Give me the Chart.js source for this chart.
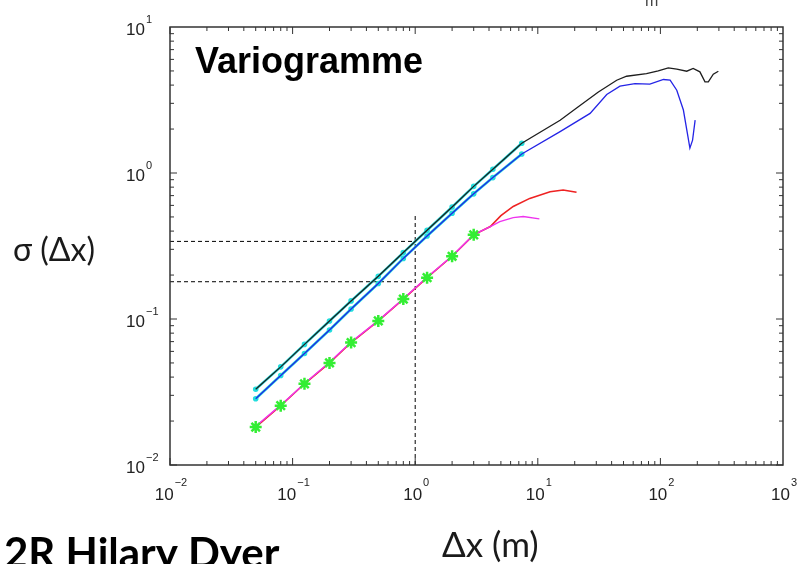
<!DOCTYPE html>
<html>
<head>
<meta charset="utf-8">
<script src="https://cdn.jsdelivr.net/npm/chart.js@4.4.1/dist/chart.umd.min.js"></script>
<style>
  html, body { margin: 0; padding: 0; background: #fff; }
  #wrap { position: relative; width: 798px; height: 564px; }
</style>
</head>
<body>
<div id="wrap"><canvas id="variogram"></canvas></div>
<script>
// lags (m) and sigma values
const lagStars = [0.05, 0.08, 0.125, 0.2, 0.3, 0.5, 0.8, 1.25, 2, 3];
const starVals = [0.0182, 0.0255, 0.036, 0.050, 0.069, 0.097, 0.137, 0.192, 0.269, 0.377];

const lagRed = [0.05, 0.08, 0.125, 0.2, 0.3, 0.5, 0.8, 1.25, 2, 3, 4.1, 5, 6.3, 8.6, 12.6, 16.1, 20.7];
const redVals = [0.0182, 0.0255, 0.036, 0.050, 0.069, 0.097, 0.137, 0.192, 0.269, 0.377, 0.43, 0.51, 0.59, 0.67, 0.745, 0.765, 0.738];

const lagMagenta = [0.05, 0.08, 0.125, 0.2, 0.3, 0.5, 0.8, 1.25, 2, 3, 4.1, 4.9, 6.3, 7.6, 10.3];
const magentaVals = [0.0184, 0.0257, 0.0362, 0.0505, 0.0695, 0.0975, 0.1375, 0.193, 0.27, 0.378, 0.43, 0.465, 0.495, 0.503, 0.485];

const lagBlack = [0.05, 0.08, 0.125, 0.2, 0.3, 0.5, 0.8, 1.25, 2, 3, 4.3, 7.4, 15.2, 21.4, 31.2, 44, 53, 77, 96, 116, 136, 164, 185, 210, 231, 246, 270, 297];
const blackVals = [0.033, 0.047, 0.067, 0.097, 0.133, 0.196, 0.285, 0.405, 0.585, 0.81, 1.06, 1.60, 2.30, 2.84, 3.59, 4.32, 4.60, 4.80, 5.00, 5.24, 5.14, 4.98, 5.20, 4.93, 4.21, 4.21, 4.75, 4.98];

const lagBlue = [0.05, 0.08, 0.125, 0.2, 0.3, 0.5, 0.8, 1.25, 2, 3, 4.3, 7.4, 15.2, 26.7, 36.5, 46.8, 62, 82, 106, 120, 136, 154, 166, 174, 183, 192];
const blueVals = [0.0284, 0.041, 0.058, 0.084, 0.117, 0.175, 0.26, 0.37, 0.53, 0.72, 0.93, 1.35, 1.92, 2.56, 3.45, 3.93, 4.10, 4.06, 4.37, 4.32, 3.69, 2.70, 1.87, 1.48, 1.68, 2.30];

const lagCyan = [0.05, 0.08, 0.125, 0.2, 0.3, 0.5, 0.8, 1.25, 2, 3, 4.3, 7.4];
const cyanUpperVals = [0.033, 0.047, 0.067, 0.097, 0.133, 0.196, 0.285, 0.405, 0.585, 0.81, 1.06, 1.60];
const cyanLowerVals = [0.0284, 0.041, 0.058, 0.084, 0.117, 0.175, 0.26, 0.37, 0.53, 0.72, 0.93, 1.35];

// dashed reading guides
const guideHighX = [0.01, 1];
const guideHighY = [0.34, 0.34];
const guideLowX = [0.01, 1];
const guideLowY = [0.18, 0.18];
const guideVertX = [1, 1];
const guideVertY = [0.01, 0.52];

const xTicks = [0.01, 0.1, 1, 10, 100, 1000];
const yTicks = [0.01, 0.1, 1, 10];

const pts = (xs, ys) => xs.map((x, i) => ({ x: x, y: ys[i] }));
const expOf = v => String(Math.round(Math.log10(v))).replace("-", "\u2212");

function lineSet(data, color, width, extra) {
  return Object.assign({
    data: data,
    borderColor: color,
    backgroundColor: color,
    borderWidth: width,
    pointRadius: 0,
    showLine: true,
    fill: false,
    tension: 0
  }, extra || {});
}

const BASE_FONT = "17px 'Liberation Sans', Arial, sans-serif";
const EXP_FONT = "11px 'Liberation Sans', Arial, sans-serif";

const frame = {
  id: "frame",
  afterDraw(chart) {
    const c = chart.ctx;
    const a = chart.chartArea;
    const xs = chart.scales.x, ys = chart.scales.y;
    c.save();
    c.strokeStyle = "#333";
    c.lineWidth = 1.5;
    c.strokeRect(a.left, a.top, a.right - a.left, a.bottom - a.top);

    // inward ticks, MATLAB style
    c.lineWidth = 1;
    for (let e = -2; e <= 2; e++) {
      for (let m = 1; m <= 9; m++) {
        const v = m * Math.pow(10, e);
        const len = m === 1 ? 7 : 4;
        const px = xs.getPixelForValue(v);
        c.beginPath();
        c.moveTo(px, a.bottom); c.lineTo(px, a.bottom - len);
        c.moveTo(px, a.top); c.lineTo(px, a.top + len);
        c.stroke();
        if (e <= 0) {
          const py = ys.getPixelForValue(v);
          c.beginPath();
          c.moveTo(a.left, py); c.lineTo(a.left + len, py);
          c.moveTo(a.right, py); c.lineTo(a.right - len, py);
          c.stroke();
        }
      }
    }

    // power-of-ten tick labels
    c.fillStyle = "#222";
    c.textBaseline = "alphabetic";
    yTicks.forEach(v => {
      const py = ys.getPixelForValue(v);
      c.font = BASE_FONT; c.textAlign = "right";
      c.fillText("10", 145, py + 8);
      c.font = EXP_FONT; c.textAlign = "left";
      c.fillText(expOf(v), 146, py - 4);
    });
    xTicks.forEach(v => {
      const px = xs.getPixelForValue(v);
      const ex = expOf(v);
      c.font = BASE_FONT;
      const w10 = c.measureText("10").width;
      c.font = EXP_FONT;
      const wEx = c.measureText(ex).width;
      const x0 = px - (w10 + 1 + wEx) / 2 + 1;
      c.font = BASE_FONT; c.textAlign = "left";
      c.fillText("10", x0, a.bottom + 35);
      c.font = EXP_FONT;
      c.fillText(ex, x0 + w10 + 1, a.bottom + 21);
    });

    c.fillStyle = "#000";
    c.textAlign = "left";
    c.font = "bold 36px 'Liberation Sans', Arial, sans-serif";
    c.fillText("Variogramme", 195, 73);

    c.fillStyle = "#1a1a1a";
    c.font = "32px Lato, 'Open Sans', sans-serif";
    c.fillText("\u03C3 (\u0394x)", 13, 261);

    c.font = "35px Lato, 'Open Sans', sans-serif";
    c.fillText("\u0394x (m)", 442, 557);

    c.fillStyle = "#000";
    c.font = "bold 42px Lato, 'Open Sans', sans-serif";
    c.fillText("2R Hilary Dyer", 4, 568);

    c.fillStyle = "#444";
    c.font = "16px 'Liberation Sans', sans-serif";
    c.fillText("m", 645, 6);
    c.restore();
  }
};

new Chart(document.getElementById("variogram"), {
  type: "line",
  data: {
    datasets: [
      lineSet(pts(lagStars, starVals), "#33ee33", 2.5, {
        showLine: false, pointStyle: "star", pointRadius: 6, pointBorderWidth: 2.5
      }),
      lineSet(pts(lagBlack, blackVals), "#1e1e1e", 1.3),
      lineSet(pts(lagBlue, blueVals), "#2424e6", 1.3),
      lineSet(pts(lagCyan, cyanUpperVals), "#22dddd", 2.6, { pointRadius: 1.5 }),
      lineSet(pts(lagCyan, cyanLowerVals), "#22dddd", 2.6, { pointRadius: 1.5 }),
      lineSet(pts(lagMagenta, magentaVals), "#ee33ee", 1.4),
      lineSet(pts(lagRed, redVals), "#ee2222", 1.6),
      lineSet(pts(guideHighX, guideHighY), "#000", 1, { borderDash: [4, 3] }),
      lineSet(pts(guideLowX, guideLowY), "#000", 1, { borderDash: [4, 3] }),
      lineSet(pts(guideVertX, guideVertY), "#000", 1, { borderDash: [4, 3] })
    ]
  },
  options: {
    responsive: true,
    maintainAspectRatio: false,
    animation: false,
    layout: { padding: { top: 27, right: 15, bottom: 0, left: 0 } },
    plugins: { legend: { display: false }, tooltip: { enabled: false } },
    scales: {
      x: {
        type: "logarithmic",
        min: 0.01,
        max: 1000,
        grid: { display: false, drawTicks: false },
        border: { display: false },
        afterBuildTicks(scale) { scale.ticks = xTicks.map(v => ({ value: v })); },
        afterFit(scale) { scale.height = 99; },
        ticks: { display: false }
      },
      y: {
        type: "logarithmic",
        min: 0.01,
        max: 10,
        grid: { display: false, drawTicks: false },
        border: { display: false },
        afterBuildTicks(scale) { scale.ticks = yTicks.map(v => ({ value: v })); },
        afterFit(scale) { scale.width = 170; },
        ticks: { display: false }
      }
    }
  },
  plugins: [frame]
});
</script>
</body>
</html>
